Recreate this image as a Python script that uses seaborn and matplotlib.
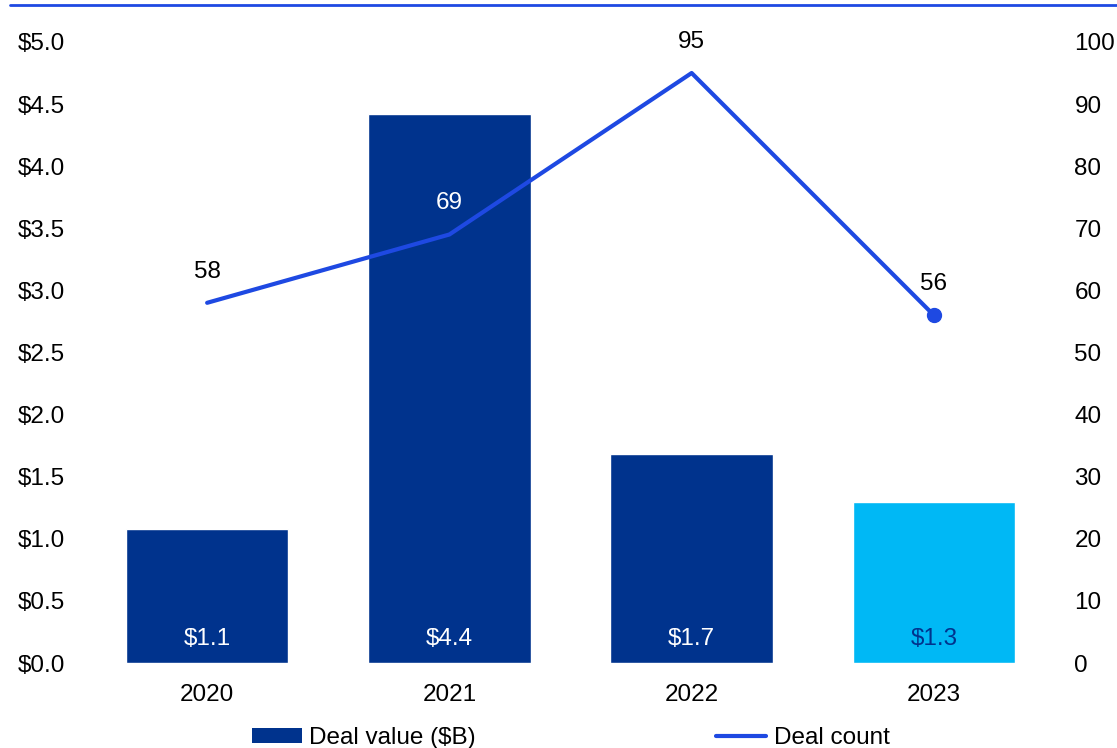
import numpy as np
import pandas as pd
import seaborn as sns
import matplotlib.pyplot as plt
from matplotlib.patches import Patch
from matplotlib.lines import Line2D

# chart data
years = ['2020', '2021', '2022', '2023']
deal_value = [1.08, 4.42, 1.68, 1.30]
deal_count = [58, 69, 95, 56]
value_labels = ['$1.1', '$4.4', '$1.7', '$1.3']

navy = '#00338D'
cobalt = '#1E49E2'
light = '#00B8F5'
bar_colors = [navy, navy, navy, light]
fs = 17.5

sns.set_style('white')
plt.rcParams['font.family'] = ['Liberation Sans', 'DejaVu Sans']
plt.rcParams['font.size'] = fs
plt.rcParams['text.color'] = 'black'

df = pd.DataFrame({'year': years, 'value': deal_value, 'count': deal_count})

fig = plt.figure(figsize=(11.17, 7.48), dpi=100)
ax = fig.add_axes([0.077, 0.1136, 0.8675, 0.8303])
sns.barplot(data=df, x='year', y='value', hue='year', palette=bar_colors,
            legend=False, width=0.67, saturation=1, ax=ax)
ax.set_ylim(0, 5)
ax.set_xlim(-0.5, 3.5)
ax.set_yticks(np.arange(0, 5.01, 0.5))
ax.set_yticklabels(['$%.1f' % v for v in np.arange(0, 5.01, 0.5)])
ax.set_xlabel('')
ax.set_ylabel('')
ax.tick_params(axis='both', length=0, labelsize=fs, colors='black')
ax.tick_params(axis='y', pad=15)
ax.tick_params(axis='x', pad=15)
for s in ax.spines.values():
    s.set_visible(False)

# labels inside bars
for i, lab in enumerate(value_labels):
    col = navy if i == 3 else 'white'
    ax.text(i, 0.19, lab, ha='center', va='center', color=col, fontsize=fs)

ax2 = ax.twinx()
sns.lineplot(x=np.arange(len(years)), y=deal_count, color=cobalt, linewidth=3, ax=ax2)
ax2.plot([3], [deal_count[3]], 'o', color=cobalt, markersize=10)
ax2.set_ylim(0, 100)
ax2.set_yticks(np.arange(0, 101, 10))
ax2.tick_params(axis='y', length=0, labelsize=fs, pad=14, colors='black')
for s in ax2.spines.values():
    s.set_visible(False)
for i, c in enumerate(deal_count):
    col = 'white' if i == 1 else 'black'
    ax2.text(i, c + 5, str(c), ha='center', va='center', color=col, fontsize=fs)

# top rule
fig.add_artist(Line2D([0.009, 1.0], [0.9933, 0.9933], color=cobalt, linewidth=2))

handles = [Patch(facecolor=navy, edgecolor='none'),
           Line2D([0], [0], color=cobalt, linewidth=3)]
leg = fig.legend(handles, ['Deal value ($B)', 'Deal count'], loc='center',
                 bbox_to_anchor=(0.511, 0.013), ncol=2, frameon=False,
                 handlelength=2.05, handleheight=0.55, handletextpad=0.3,
                 columnspacing=9.9, fontsize=fs, borderpad=0)
for t in leg.get_texts():
    t.set_color('black')

fig.savefig('out.png', dpi=100)
